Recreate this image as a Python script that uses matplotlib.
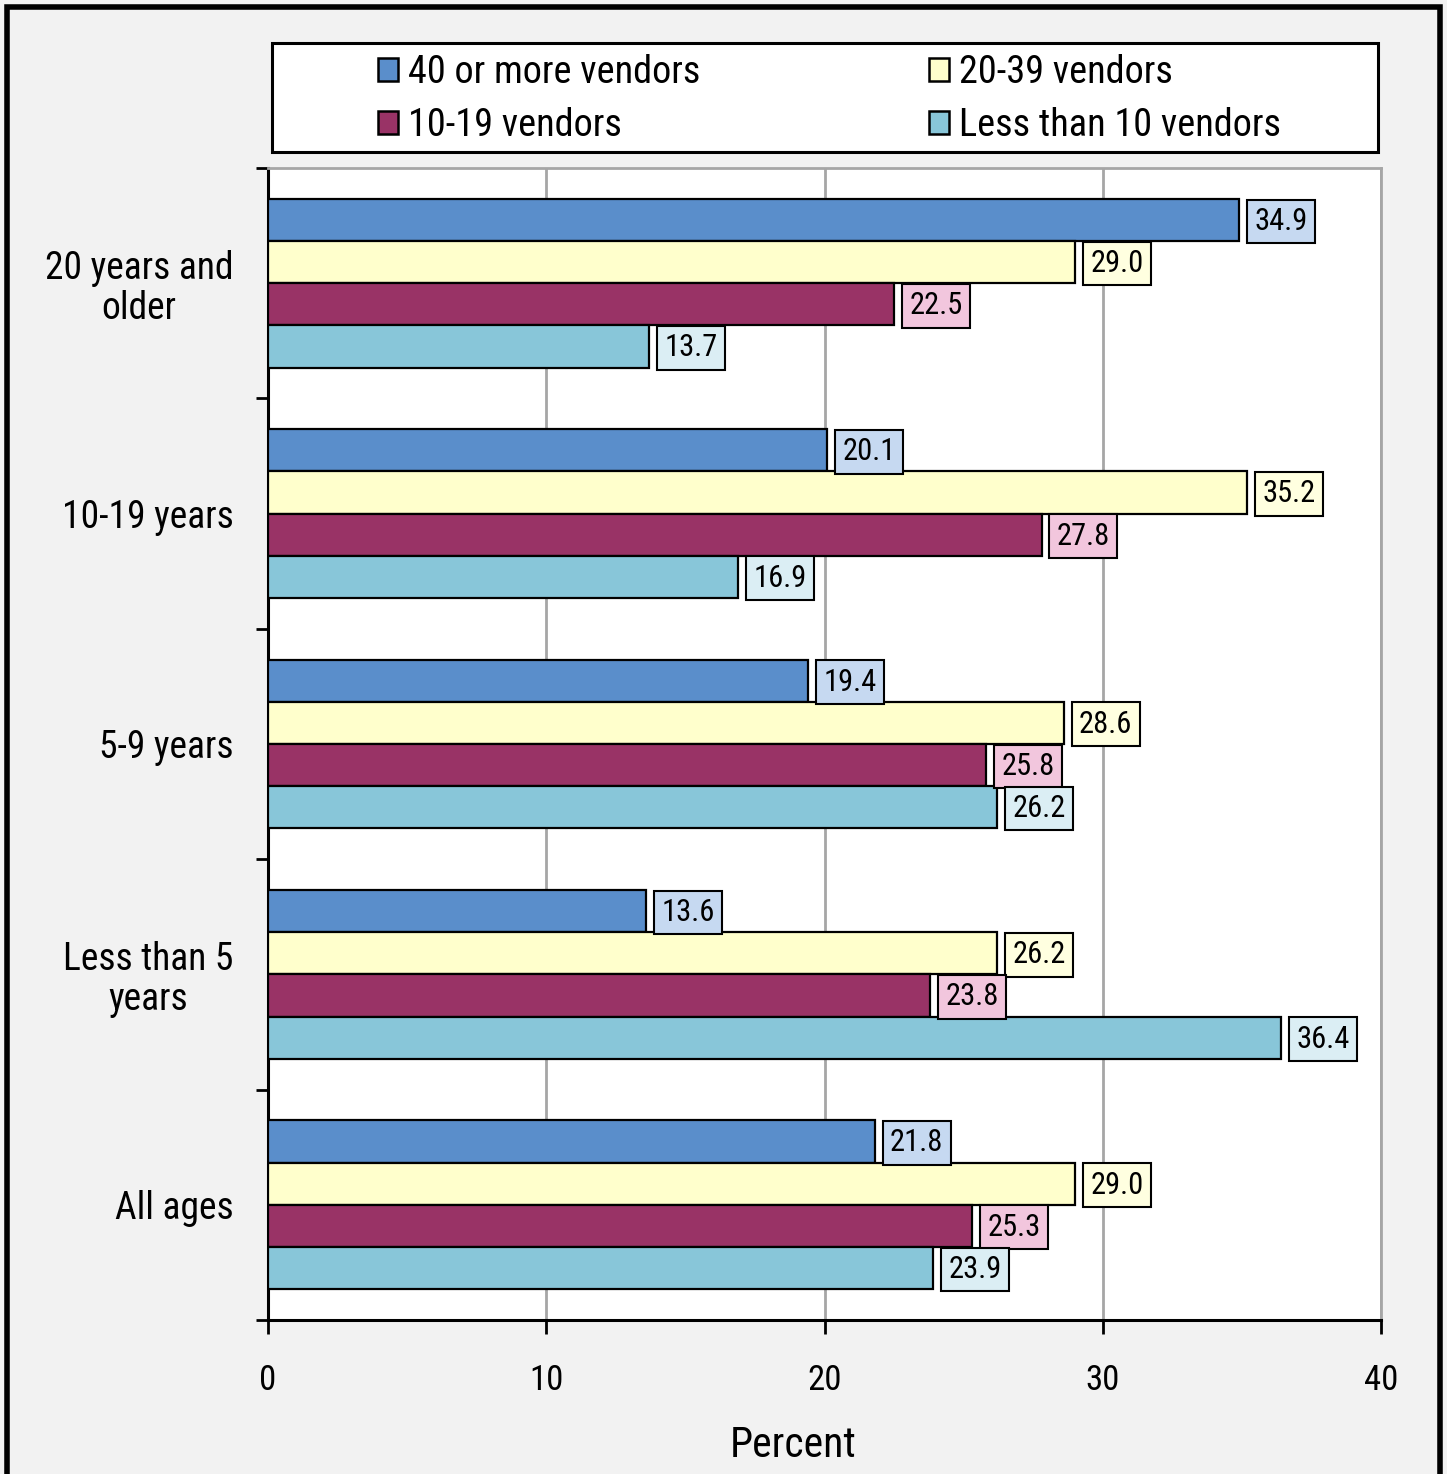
import matplotlib.pyplot as plt
from matplotlib.patches import Patch, Rectangle
import numpy as np

# datos del grafico
categorias = ['20 years and\nolder', '10-19 years', '5-9 years', 'Less than 5\nyears', 'All ages']
series = ['40 or more vendors', '20-39 vendors', '10-19 vendors', 'Less than 10 vendors']
v40 = [34.9, 20.1, 19.4, 13.6, 21.8]
v20 = [29.0, 35.2, 28.6, 26.2, 29.0]
v10 = [22.5, 27.8, 25.8, 23.8, 25.3]
v0 = [13.7, 16.9, 26.2, 36.4, 23.9]
xticks = [0, 10, 20, 30, 40]

colores = ['#5a8ecb', '#ffffcc', '#993366', '#88c6d9']
colores_caja = ['#c6d9f1', '#ffffe0', '#f2c6dd', '#dbeef4']

# fuente condensada si existe
fuente = ['Roboto Condensed', 'PT Sans Narrow', 'Archivo Narrow', 'Arial Narrow',
          'Liberation Sans Narrow', 'DejaVu Sans']
plt.rcParams['font.family'] = fuente

fig = plt.figure(figsize=(14.47, 14.74), dpi=100)
fig.patch.set_facecolor('#f2f2f2')
ax = fig.add_axes([268/1447, 1-1320/1474, 1113/1447, 1152/1474])

y = np.arange(len(categorias))
h = 0.183
offs = [-1.5, -0.5, 0.5, 1.5]
valores = [v40, v20, v10, v0]

for k, vals in enumerate(valores):
    pos = y + offs[k]*h
    ax.barh(pos, vals, height=h, color=colores[k], edgecolor='black', linewidth=1.6, zorder=3)
    for p, v in zip(pos, vals):
        ax.annotate(f'{v:.1f}', (v, p), xytext=(11, -1), textcoords='offset points',
                    ha='left', va='center', fontsize=22, zorder=4,
                    bbox=dict(boxstyle='square,pad=0.24', fc=colores_caja[k], ec='black', lw=1.5))

ax.set_xlim(0, 40)
ax.set_ylim(4.5, -0.5)
ax.set_xticks(xticks)
ax.set_xticklabels([str(t) for t in xticks], fontsize=25)
ax.set_yticks(y)
ax.set_yticklabels(categorias, fontsize=27)
for lab in ax.get_yticklabels():
    lab.set_multialignment('center')
    lab.set_linespacing(1.1)
ax.set_yticks(np.arange(-0.5, 5, 1), minor=True)
ax.tick_params(axis='y', which='major', length=0, pad=25)
ax.tick_params(axis='y', which='minor', length=9, width=2, direction='out')
ax.tick_params(axis='x', length=10, width=2, direction='out', pad=22)
ax.grid(axis='x', color='#a6a6a6', linewidth=2, zorder=0)
ax.set_axisbelow(True)
for s in ['left', 'bottom']:
    ax.spines[s].set_linewidth(2.2)
    ax.spines[s].set_color('black')
for s in ['top', 'right']:
    ax.spines[s].set_linewidth(2)
    ax.spines[s].set_color('#a6a6a6')
ax.set_xlabel('Percent', fontsize=30)
ax.xaxis.set_label_coords(0.4717, -0.091)

# leyenda
handles = [Patch(facecolor=colores[i], edgecolor='black', linewidth=1.8) for i in range(4)]
orden = [0, 2, 1, 3]
leg = fig.legend([handles[i] for i in orden], [series[i] for i in orden], ncol=2,
                 loc='center left', bbox_to_anchor=(378/1447, 1-99/1474),
                 frameon=False, fontsize=27.5, handlelength=0.52, handleheight=0.52,
                 handletextpad=0.26, columnspacing=6.0, labelspacing=0.42,
                 borderpad=0, borderaxespad=0)
fig.add_artist(Rectangle((272/1447, 1-152/1474), 1106/1447, 109/1474,
                         transform=fig.transFigure, fill=True, fc='white',
                         ec='black', lw=2.2, zorder=-1))

# marco exterior
fig.add_artist(Rectangle((7/1447, -0.02), 1433/1447, 1.02-7/1474,
                         transform=fig.transFigure, fill=False, ec='black', lw=4))

fig.savefig('out.png', dpi=100, facecolor=fig.get_facecolor())
